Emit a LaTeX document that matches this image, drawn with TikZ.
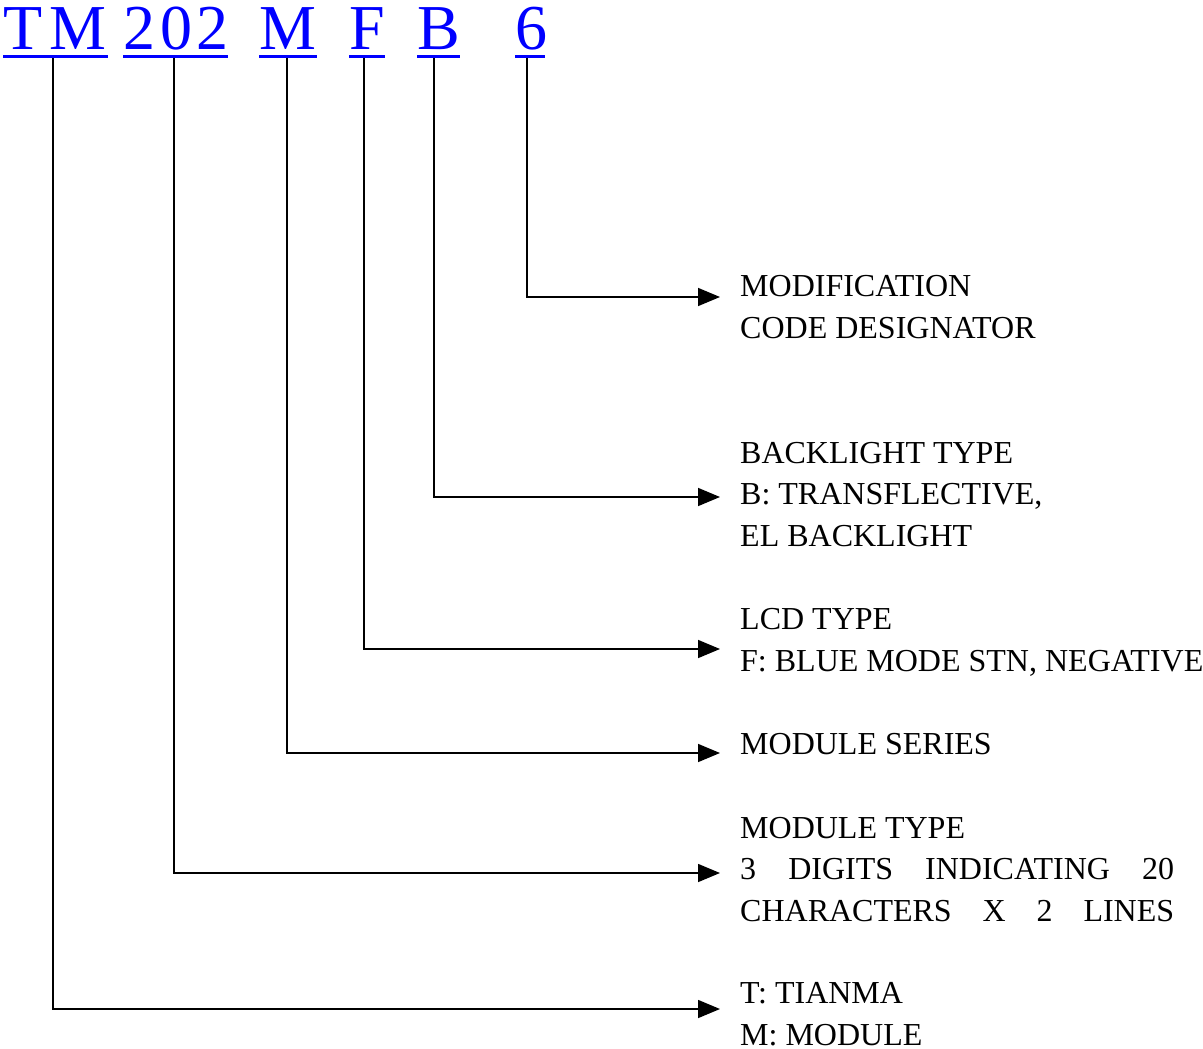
\documentclass[tikz,border=0pt]{standalone}
\usepackage{fontspec}
\setmainfont{Liberation Serif}
\usetikzlibrary{arrows.meta}
\definecolor{codeblue}{RGB}{0,0,255}
\begin{document}
\begin{tikzpicture}[x=1pt,y=-1pt,
  topch/.style={anchor=base west,inner sep=0pt,text=codeblue,font=\fontsize{64}{64}\selectfont},
  uline/.style={draw=codeblue,line width=3pt},
  conn/.style={draw=black,line width=1.6pt,-{Triangle[length=22pt,width=18pt]}},
  lbl/.style={anchor=base west,inner sep=0pt,align=left,font=\fontsize{32}{41.5}\selectfont}]
\useasboundingbox (0,0) rectangle (1203,1049);
% top code characters
\node[topch] (cT) at (3,50) {T};
\node[topch] (cM1) at (49,50) {M};
\node[topch] (c2a) at (123,50) {2};
\node[topch] (c0) at (160,50) {0};
\node[topch] (c2b) at (196,50) {2};
\node[topch] (cM2) at (259,50) {M};
\node[topch] (cF) at (349,50) {F};
\node[topch] (cB) at (417,50) {B};
\node[topch] (c6) at (515,50) {6};
% underlines
\draw[uline] (3,57) -- (108,57);
\draw[uline] (123,57) -- (228,57);
\draw[uline] (259,57) -- (317,57);
\draw[uline] (349,57) -- (385,57);
\draw[uline] (417,57) -- (460,57);
\draw[uline] (515,57) -- (545,57);
% start points
\coordinate (sTM) at (53,58.5);
\coordinate (s202) at (174,58.5);
\coordinate (sM) at (287,58.5);
\coordinate (sF) at (364,58.5);
\coordinate (sB) at (434,58.5);
\coordinate (s6) at (527,58.5);
% arrow ends
\coordinate (e6) at (720,297);
\coordinate (eB) at (720,497);
\coordinate (eF) at (720,649);
\coordinate (eM) at (720,753);
\coordinate (e202) at (720,873);
\coordinate (eTM) at (720,1009);
% labels (base anchor = baseline of last line)
\node[lbl] (l6) at (740,338) {MODIFICATION\\CODE DESIGNATOR};
\node[lbl] (lB) at (740,546) {BACKLIGHT TYPE\\B: TRANSFLECTIVE,\\EL BACKLIGHT};
\node[lbl] (lF) at (740,671) {LCD TYPE\\F: BLUE MODE STN, NEGATIVE};
\node[lbl] (lM) at (740,754) {MODULE SERIES};
\node[lbl] (l202) at (740,921) {MODULE TYPE\\\makebox[434pt][s]{3 DIGITS INDICATING 20}\\\makebox[434pt][s]{CHARACTERS X 2 LINES}};
\node[lbl] (lTM) at (740,1045) {T: TIANMA\\M: MODULE};
% connectors
\draw[conn] (s6) |- (e6);
\draw[conn] (sB) |- (eB);
\draw[conn] (sF) |- (eF);
\draw[conn] (sM) |- (eM);
\draw[conn] (s202) |- (e202);
\draw[conn] (sTM) |- (eTM);
\end{tikzpicture}
\end{document}
